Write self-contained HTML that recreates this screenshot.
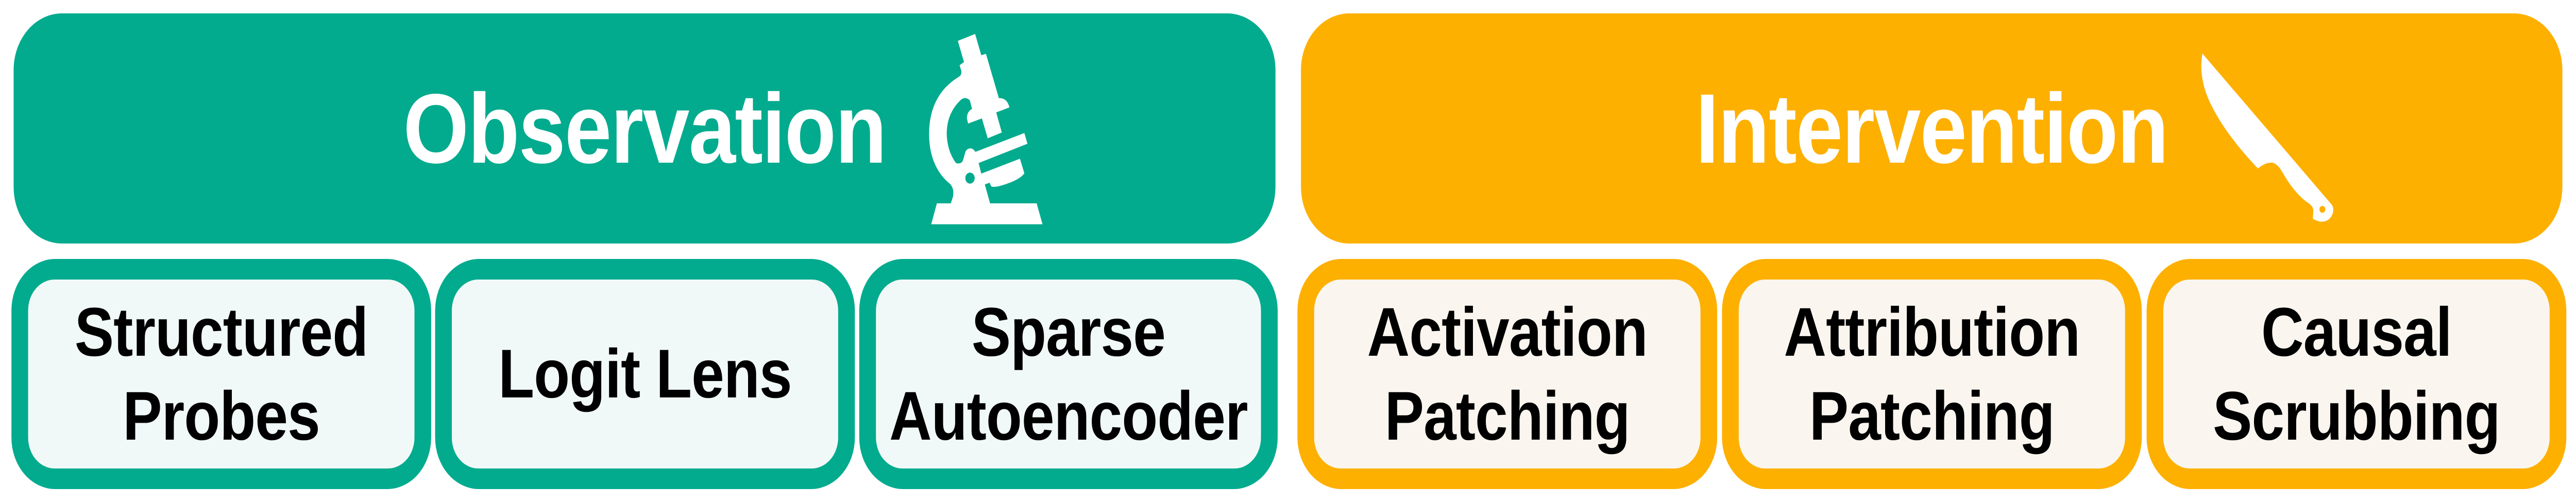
<!DOCTYPE html>
<html><head><meta charset="utf-8"><style>
html{margin:0;padding:0;background:#fff;overflow:hidden;}
body{margin:0;padding:0;height:979px;overflow:hidden;font-family:"Liberation Sans",Arial,sans-serif;}
#w{position:absolute;left:0;top:0;width:5861px;height:979px;transform-origin:0 0;}
.h{position:absolute;top:26px;height:447px;border-radius:110px;display:flex;align-items:center;justify-content:center;color:#fff;font-weight:bold;font-size:192px;letter-spacing:-2px;}
.o{background:#02AB8E;}
.i{background:#FDB000;}
.b{position:absolute;top:503px;height:447px;border-radius:100px;padding:40px 38px;width:955px;box-sizing:border-box;}
.b .in{width:100%;height:100%;border-radius:60px;display:flex;align-items:center;justify-content:center;text-align:center;font-weight:bold;font-size:134px;line-height:163px;color:#000;letter-spacing:-1px;}
.o .in{background:#F1F9F8;}
.i .in{background:#FAF6EF;}
svg{position:absolute;left:0;top:0;}
</style></head><body>
<div id="w">
<div class="h o" style="left:31px;width:2871px;">Observation</div>
<div class="h i" style="left:2960px;width:2870px;">Intervention</div>

<div class="b o" style="left:26px;"><div class="in">Structured<br>Probes</div></div>
<div class="b o" style="left:990px;"><div class="in">Logit Lens</div></div>
<div class="b o" style="left:1955px;width:952px;"><div class="in">Sparse<br>Autoencoder</div></div>

<div class="b i" style="left:2952px;"><div class="in">Activation<br>Patching</div></div>
<div class="b i" style="left:3918px;"><div class="in">Attribution<br>Patching</div></div>
<div class="b i" style="left:4884px;"><div class="in">Causal<br>Scrubbing</div></div>

<svg width="5861" height="979" viewBox="0 0 5861 979">
<g transform="translate(2080,50) scale(0.3333)">
<path fill="#fff" d="M310,230 L322,265 Q325,290 300,300 C170,370 100,480 102,640 C104,780 170,870 240,918 Q275,945 265,995 L250,1035 L518,1035 L482,925 L515,915 L525,935 Q540,945 600,930 Q720,900 752,860 L722,775 L458,862 L440,800 L773,688 L752,625 L418,735 Q400,712 380,715 Q355,718 348,740 L333,785 Q320,810 285,800 Q225,730 222,630 Q222,510 318,432 Q350,410 380,435 L395,485 Q360,500 360,540 L368,570 L462,540 L502,656 L598,622 L560,505 L650,476 Q635,420 578,422 L490,164 L458,172 L416,48 L298,88 L340,212 Z"/>
<circle cx="381" cy="888" r="32" fill="#02AB8E"/>
<polygon fill="#fff" points="155,1035 836,1035 876,1157 116,1157"/>
</g>
<g transform="translate(4980,80) scale(0.3333)">
<path fill="#fff" d="M93,72 L975,952 Q995,975 980,1010 Q960,1050 910,1052 Q880,1052 847,1035 L850,990 Q850,960 810,940 Q720,885 640,765 Q600,705 560,708 Q520,708 472,742 Q270,560 170,400 Q60,230 93,72 Z"/>
<circle cx="912" cy="980" r="20" fill="#FDB000"/>
</g>
</svg>
</div>
<script>
(function(){
  var vw = window.innerWidth || document.documentElement.clientWidth || 5861;
  if (vw > 0 && Math.abs(vw - 5861) > 2) {
    document.getElementById('w').style.transform = 'scaleX(' + (vw/5861) + ')';
  }
})();
</script>
</body></html>
